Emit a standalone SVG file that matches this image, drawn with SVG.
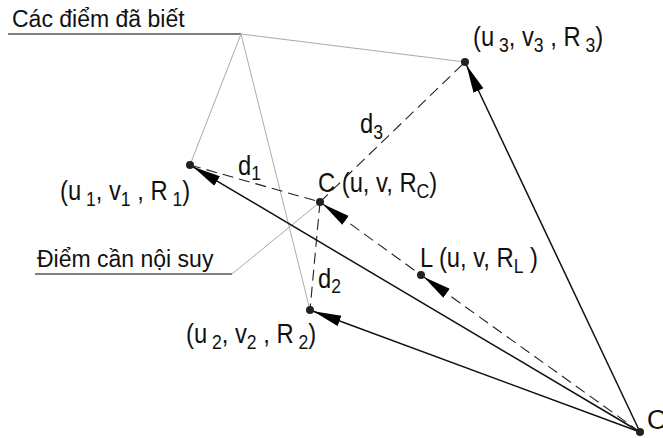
<svg xmlns="http://www.w3.org/2000/svg" width="663" height="438" viewBox="0 0 663 438">
<defs>
<style>
.lbl{font-family:"Liberation Sans",Arial,sans-serif;font-size:27px;fill:#111}
.sub{font-size:20px}
.cap{font-family:"Liberation Sans",Arial,sans-serif;font-size:23px;fill:#111}
.solid{stroke:#111;stroke-width:1.5;fill:none}
.dash{stroke:#222;stroke-width:1.1;fill:none;stroke-dasharray:11 6}
.gray{stroke:#aaa;stroke-width:1;fill:none}
.leader{stroke:#555;stroke-width:1.3;fill:none}
.dot{fill:#222}
</style>
<marker id="arr" markerUnits="userSpaceOnUse" markerWidth="30" markerHeight="12" viewBox="0 -6 30 12" refX="28" refY="0" orient="auto-start-reverse">
<path d="M28,0 L0,-5.5 L0,5.5 z" fill="#000"/>
</marker>
</defs>
<g id="leaders">
<line class="leader" x1="8" y1="34" x2="241" y2="34"/>
<line class="gray" x1="241" y1="34" x2="190" y2="165"/>
<line class="gray" x1="241" y1="34" x2="310" y2="310"/>
<line class="gray" x1="241" y1="34" x2="465" y2="62"/>
<line class="leader" x1="35" y1="274" x2="232" y2="274"/>
<line class="gray" x1="232" y1="274" x2="320" y2="202"/>
</g>
<g id="connectors">
<line class="dash" x1="190" y1="165" x2="320" y2="202"/>
<line class="dash" x1="320" y1="202" x2="310" y2="310"/>
<line class="dash" x1="320" y1="202" x2="465" y2="62"/>
<line class="solid" x1="193" y1="166.8" x2="640" y2="432" marker-start="url(#arr)"/>
<line class="solid" x1="313.3" y1="311.2" x2="640" y2="432" marker-start="url(#arr)"/>
<line class="solid" x1="466.5" y1="65.2" x2="640" y2="432" marker-start="url(#arr)"/>
<line class="dash" x1="423.8" y1="277" x2="640" y2="432" marker-start="url(#arr)"/>
<line class="dash" x1="322.8" y1="204" x2="421" y2="275" marker-start="url(#arr)"/>
</g>
<g id="P1"><circle class="dot" cx="190" cy="165" r="4"/>
<text class="lbl" transform="translate(60,200) scale(0.88,1)">(u<tspan class="sub" dy="6"> 1</tspan><tspan dy="-6">, v</tspan><tspan class="sub" dy="6">1</tspan><tspan dy="-6"> , R</tspan><tspan class="sub" dy="6"> 1</tspan><tspan dy="-6">)</tspan></text></g>
<g id="P2"><circle class="dot" cx="310" cy="310" r="4"/>
<text class="lbl" transform="translate(186,343) scale(0.88,1)">(u<tspan class="sub" dy="6"> 2</tspan><tspan dy="-6">, v</tspan><tspan class="sub" dy="6">2</tspan><tspan dy="-6"> , R</tspan><tspan class="sub" dy="6"> 2</tspan><tspan dy="-6">)</tspan></text></g>
<g id="P3"><circle class="dot" cx="465" cy="62" r="4"/>
<text class="lbl" transform="translate(473,46) scale(0.88,1)">(u<tspan class="sub" dy="6"> 3</tspan><tspan dy="-6">, v</tspan><tspan class="sub" dy="6">3</tspan><tspan dy="-6"> , R</tspan><tspan class="sub" dy="6"> 3</tspan><tspan dy="-6">)</tspan></text></g>
<g id="C"><circle class="dot" cx="320" cy="202" r="4"/>
<text class="lbl" transform="translate(318,192) scale(0.88,1)">C (u, v, R<tspan class="sub" dy="6">C</tspan><tspan dy="-6">)</tspan></text></g>
<g id="L"><circle class="dot" cx="421" cy="275" r="4"/>
<text class="lbl" transform="translate(420,267) scale(0.88,1)">L (u, v, R<tspan class="sub" dy="6">L</tspan><tspan dy="-6"> )</tspan></text></g>
<g id="O"><circle class="dot" cx="640" cy="432" r="4"/>
<text class="lbl" x="647" y="429" font-size="28">O</text></g>
<g id="dlabels">
<text class="lbl" transform="translate(360,133) scale(0.88,1)">d<tspan class="sub" dy="6">3</tspan></text>
<text class="lbl" transform="translate(238,175) scale(0.88,1)">d<tspan class="sub" dy="5">1</tspan></text>
<text class="lbl" transform="translate(318,288) scale(0.88,1)">d<tspan class="sub" dy="5">2</tspan></text>
</g>
<g id="captions">
<text class="cap" x="12" y="27">Các điểm đã biết</text>
<text class="cap" x="37" y="267">Điểm cần nội suy</text>
</g>
</svg>
